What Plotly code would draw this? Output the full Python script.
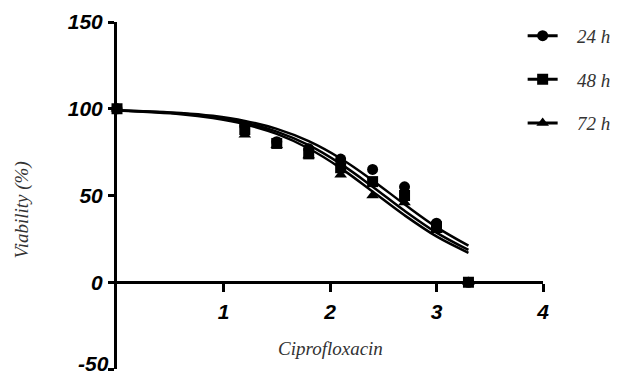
import plotly.graph_objects as go

# log concentration (x) of measured points
x_pts = [0, 1.2, 1.5, 1.8, 2.1, 2.4, 2.7, 3.0, 3.3]
v24 = [100, 90, 81, 77, 71, 65, 55, 34, 0]
v48 = [100, 88, 80, 74, 66, 58, 50, 32, 0]
v72 = [100, 85, 79, 73, 62, 50, 46, 30, 0]

# fitted curves
x_fit = [0, 0.6, 0.9, 1.2, 1.5, 1.8, 2.1, 2.4, 2.7, 3.0, 3.3]
f24 = [99.2, 97.6, 95.9, 93.0, 88.4, 81.3, 71.3, 58.7, 44.9, 31.8, 21.1]
f48 = [99.1, 97.2, 95.3, 92.0, 86.8, 79.0, 68.2, 55.1, 41.2, 28.6, 18.6]
f72 = [99.0, 96.9, 94.7, 91.1, 85.5, 77.1, 65.8, 52.3, 38.6, 26.4, 17.0]

labels = ["24 h", "48 h", "72 h"]
symbols = ["circle", "square", "triangle-up"]

y_ticks = [-50, 0, 50, 100, 150]
y_ticktext = ["", "0", "50", "100", "150"]  # -50 drawn as annotation so it is not cut off

fig = go.Figure()
for fit in [f24, f48, f72]:
    fig.add_trace(go.Scatter(x=x_fit, y=fit, mode="lines", line=dict(color="black", width=2.5, shape="spline"),
                             showlegend=False, hoverinfo="skip"))
for vals, lab, sym in zip([v24, v48, v72], labels, symbols):
    fig.add_trace(go.Scatter(x=x_pts, y=vals, mode="markers", marker=dict(symbol=sym, size=11, color="black"),
                             showlegend=False, cliponaxis=False))
for lab, sym in zip(labels, symbols):
    fig.add_trace(go.Scatter(x=[None], y=[None], mode="lines+markers", name="\u00a0\u00a0\u00a0" + lab,
                             legendgroup=lab, marker=dict(symbol=sym, size=11, color="black"),
                             line=dict(color="black", width=3)))

tickfont = dict(family="Liberation Sans", size=21, color="black", style="italic", weight="bold")
titlefont = dict(family="Liberation Serif", size=19, color="#333333", style="italic")

# page body has an 8px margin, so the figure is 8px smaller and margins shifted
fig.update_layout(
    width=616, height=370,
    margin=dict(l=109, r=80, t=14, b=9),
    plot_bgcolor="white", paper_bgcolor="white",
    showlegend=True,
    legend=dict(x=0.95, y=1.015, xanchor="left", yanchor="top", tracegroupgap=16,
                font=titlefont, bgcolor="rgba(0,0,0,0)"),
    xaxis=dict(range=[0, 4], tickvals=[1, 2, 3, 4], ticktext=["1", "2", "3", "4"],
               showgrid=False, zeroline=False, showline=True, linecolor="black", linewidth=3,
               ticks="outside", ticklen=8, tickwidth=2.5, tickcolor="black", automargin=False,
               anchor="free", position=0.25, tickfont=tickfont, ticklabelstandoff=2),
    yaxis=dict(range=[-50, 150], tickvals=y_ticks, ticktext=y_ticktext, automargin=False,
               showgrid=False, zeroline=False, showline=True, linecolor="black", linewidth=3,
               ticks="outside", ticklen=6, tickwidth=2.5, tickcolor="black",
               tickfont=tickfont, ticklabelstandoff=1),
    annotations=[
        dict(text="Ciprofloxacin", x=2, y=0.06, xref="x", yref="paper", showarrow=False,
             yanchor="middle", xanchor="center", font=titlefont),
        dict(text="Viability (%)", x=-0.222, y=0.458, xref="paper", yref="paper", showarrow=False,
             textangle=-90, yanchor="middle", xanchor="center", font=titlefont),
        dict(text="-50", x=0, y=-50, xref="paper", yref="y", showarrow=False,
             xanchor="right", yanchor="bottom", xshift=-6, yshift=-8, font=tickfont),
    ],
)

fig.write_html("out.html")
